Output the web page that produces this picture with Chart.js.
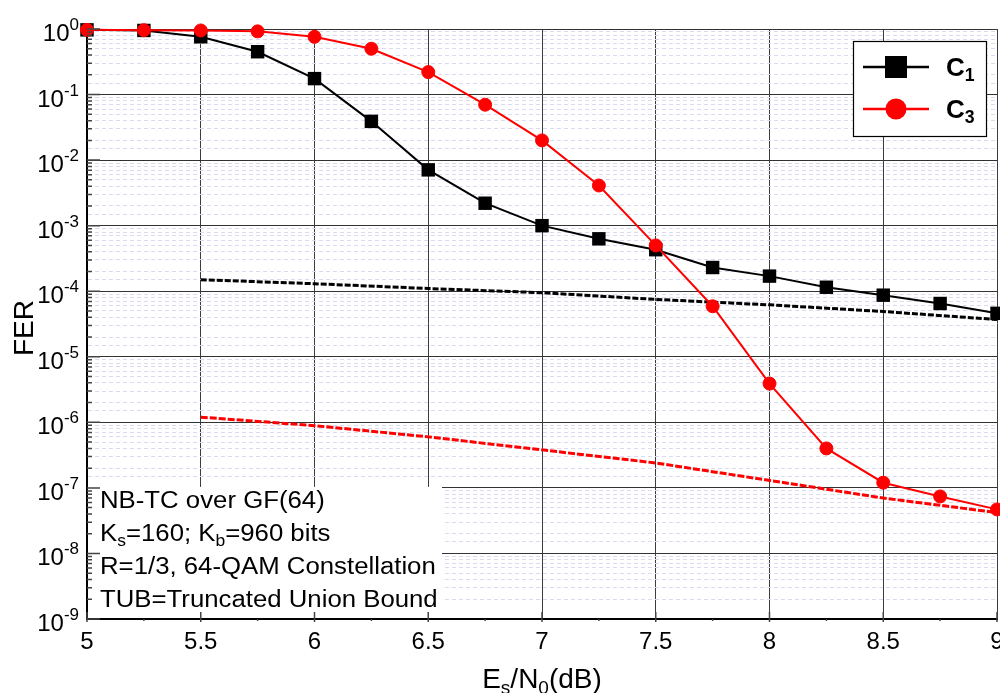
<!DOCTYPE html>
<html>
<head>
<meta charset="utf-8">
<script src="https://cdn.jsdelivr.net/npm/chart.js@4.4.1/dist/chart.umd.min.js"></script>
<style>
html, body { margin: 0; padding: 0; background: #fff; }
#wrap { width: 1000px; height: 693px; }
</style>
</head>
<body>
<div id="wrap"><canvas id="fer" width="1000" height="693"></canvas></div>
<script>
// values
const snr = [5, 5.25, 5.5, 5.75, 6, 6.25, 6.5, 6.75, 7, 7.25, 7.5, 7.75, 8, 8.25, 8.5, 8.75, 9];
const ferC1 = [0.97, 0.95, 0.76, 0.45, 0.175, 0.039, 0.0071, 0.0022, 1.0e-3, 6.3e-4, 4.3e-4, 2.3e-4, 1.7e-4, 1.15e-4, 8.7e-5, 6.5e-5, 4.6e-5];
const ferC3 = [0.97, 0.96, 0.95, 0.92, 0.76, 0.50, 0.22, 0.07, 0.020, 0.0041, 5.0e-4, 5.9e-5, 3.9e-6, 4.0e-7, 1.2e-7, 7.4e-8, 4.7e-8];
const tubSnr = [5.5, 6, 6.5, 7, 7.5, 8, 8.5, 9];
const tubC1 = [1.5e-4, 1.3e-4, 1.1e-4, 9.5e-5, 7.5e-5, 6.2e-5, 4.9e-5, 3.7e-5];
const tubC3 = [1.2e-6, 8.9e-7, 6.0e-7, 3.8e-7, 2.4e-7, 1.3e-7, 7.0e-8, 4.2e-8];
const xTicks = [5, 5.5, 6, 6.5, 7, 7.5, 8, 8.5, 9];
const xTickLabels = ['5', '5.5', '6', '6.5', '7', '7.5', '8', '8.5', '9'];
const yExponents = [0, -1, -2, -3, -4, -5, -6, -7, -8, -9];
const legendItems = [
    { name: [['C'], ['1', 'sub']], color: '#000000', style: 'rect' },
    { name: [['C'], ['3', 'sub']], color: '#ff0000', style: 'circle' }
];
const noteLines = [
    [['NB-TC over GF(64)']],
    [['K'], ['s', 'sub'], ['=160; K'], ['b', 'sub'], ['=960 bits']],
    [['R=1/3, 64-QAM Constellation']],
    [['TUB=Truncated Union Bound']]
];
const xTitle = [['E'], ['s', 'sub'], ['/N'], ['0', 'sub'], ['(dB)']];

const FONT = "'Liberation Sans', Arial, sans-serif";

function pts(xs, ys) {
    return xs.map((x, i) => ({ x: x, y: ys[i] }));
}

function isDecade(v) {
    if (!v) return false;
    const l = Math.log10(v);
    return Math.abs(l - Math.round(l)) < 1e-6;
}

// text with sub/superscript pieces
function richWidth(ctx, parts, size, weight) {
    let w = 0;
    for (const [t, kind] of parts) {
        const s = kind ? size * 0.68 : size;
        ctx.font = `${weight || ''} ${s}px ${FONT}`;
        w += ctx.measureText(t).width;
    }
    return w;
}

function drawRich(ctx, parts, x, y, size, weight) {
    let cx = x;
    for (const [t, kind] of parts) {
        const s = kind ? size * 0.68 : size;
        const dy = kind === 'sub' ? size * 0.2 : (kind === 'sup' ? -size * 0.45 : 0);
        ctx.font = `${weight || ''} ${s}px ${FONT}`;
        ctx.fillText(t, cx, y + dy);
        cx += ctx.measureText(t).width;
    }
}

const noteBox = {
    id: 'noteBox',
    beforeDatasetsDraw(chart) {
        const ctx = chart.ctx;
        const xs = chart.scales.x, ys = chart.scales.y;
        ctx.save();
        ctx.fillStyle = '#ffffff';
        ctx.fillRect(xs.left + 1, ys.getPixelForValue(1e-7) - 1, 354, ys.bottom - ys.getPixelForValue(1e-7));
        ctx.restore();
    }
};

const decor = {
    id: 'decor',
    afterDraw(chart) {
        const ctx = chart.ctx;
        const xs = chart.scales.x, ys = chart.scales.y;
        const area = chart.chartArea;
        ctx.save();
        ctx.fillStyle = '#000';
        ctx.strokeStyle = '#444';

        // y tick marks (inside)
        ctx.lineWidth = 1.5;
        ctx.beginPath();
        for (const e of yExponents) {
            const y = ys.getPixelForValue(Math.pow(10, e));
            ctx.moveTo(area.left, y); ctx.lineTo(area.left + 13, y);
            if (e > -9) {
                for (let m = 2; m <= 9; m++) {
                    const ym = ys.getPixelForValue(m * Math.pow(10, e - 1));
                    ctx.moveTo(area.left, ym); ctx.lineTo(area.left + 5, ym);
                }
            }
        }
        // x tick marks
        for (const v of xTicks) {
            const x = xs.getPixelForValue(v);
            ctx.moveTo(x, area.bottom - 7); ctx.lineTo(x, area.bottom + 3);
            if (v < 9) {
                const xm = xs.getPixelForValue(v + 0.25);
                ctx.moveTo(xm, area.bottom); ctx.lineTo(xm, area.bottom + 2);
            }
        }
        ctx.stroke();

        // y tick labels 10^n
        ctx.textAlign = 'left';
        ctx.textBaseline = 'alphabetic';
        for (const e of yExponents) {
            const y = ys.getPixelForValue(Math.pow(10, e));
            ctx.font = `24px ${FONT}`;
            const wBase = ctx.measureText('10').width;
            ctx.font = `17px ${FONT}`;
            const wExp = ctx.measureText(String(e)).width;
            const x0 = 79 - wBase - wExp;
            ctx.font = `24px ${FONT}`;
            ctx.fillText('10', x0, y + 12);
            ctx.font = `17px ${FONT}`;
            ctx.fillText(String(e), x0 + wBase, y + 1);
        }

        // x tick labels
        ctx.textAlign = 'center';
        ctx.font = `24px ${FONT}`;
        xTicks.forEach((v, i) => {
            ctx.fillText(xTickLabels[i], xs.getPixelForValue(v), 649);
        });

        // axis titles
        ctx.textAlign = 'left';
        const tw = richWidth(ctx, xTitle, 28);
        drawRich(ctx, xTitle, (area.left + area.right) / 2 - tw / 2, 688, 28);
        ctx.save();
        ctx.translate(33, 328);
        ctx.rotate(-Math.PI / 2);
        ctx.textAlign = 'center';
        ctx.font = `28px ${FONT}`;
        ctx.fillText('FER', 0, 0);
        ctx.restore();

        // note text
        ctx.textAlign = 'left';
        noteLines.forEach((line, i) => {
            ctx.save();
            ctx.translate(100, 508 + i * 33);
            ctx.scale(1.12, 1);
            drawRich(ctx, line, 0, 0, 23);
            ctx.restore();
        });

        // legend
        const lx = 853, ly = 41, lw = 133, lh = 95;
        ctx.fillStyle = '#fff';
        ctx.fillRect(lx, ly, lw, lh);
        ctx.strokeStyle = '#000';
        ctx.lineWidth = 1.2;
        ctx.strokeRect(lx + 0.5, ly + 0.5, lw, lh);
        legendItems.forEach((item, i) => {
            const y = 67 + i * 42;
            ctx.strokeStyle = item.color;
            ctx.fillStyle = item.color;
            ctx.lineWidth = 2.5;
            ctx.beginPath();
            ctx.moveTo(863, y); ctx.lineTo(929, y);
            ctx.stroke();
            if (item.style === 'rect') {
                ctx.fillRect(885, y - 11, 22, 22);
            } else {
                ctx.beginPath();
                ctx.arc(896, y, 10.5, 0, Math.PI * 2);
                ctx.fill();
            }
            ctx.fillStyle = '#000';
            drawRich(ctx, item.name, 946, y + 9, 26, 'bold');
        });
        ctx.restore();
    }
};

new Chart(document.getElementById('fer'), {
    type: 'line',
    data: {
        datasets: [
            {
                label: 'C3', data: pts(snr, ferC3), borderColor: '#ff0000', backgroundColor: '#ff0000',
                borderWidth: 2, pointStyle: 'circle', pointRadius: 6.5, pointBorderWidth: 1, order: 0
            },
            {
                label: 'C1', data: pts(snr, ferC1), borderColor: '#000000', backgroundColor: '#000000',
                borderWidth: 2, pointStyle: 'rect', pointRadius: 9.5, pointBorderWidth: 0, order: 1
            },
            {
                label: 'TUB C1', data: pts(tubSnr, tubC1), borderColor: '#000000',
                borderWidth: 3, borderDash: [6, 2], pointRadius: 0, order: 2
            },
            {
                label: 'TUB C3', data: pts(tubSnr, tubC3), borderColor: '#ff0000',
                borderWidth: 3, borderDash: [7, 2], pointRadius: 0, order: 2
            }
        ]
    },
    options: {
        responsive: false,
        animation: false,
        clip: false,
        layout: { autoPadding: false, padding: { left: 0, top: 29, right: 3, bottom: 0 } },
        elements: { line: { tension: 0 } },
        plugins: { legend: { display: false }, tooltip: { enabled: false } },
        scales: {
            x: {
                type: 'linear', min: 5, max: 9,
                ticks: { display: false, stepSize: 0.5 },
                grid: { color: '#3c3c3c', lineWidth: 1, drawTicks: false },
                border: { color: '#000', width: 2 },
                afterFit(s) { s.height = 74; }
            },
            y: {
                type: 'logarithmic', min: 1e-9, max: 1,
                ticks: { display: false },
                grid: {
                    drawTicks: false,
                    color: c => (c.tick && isDecade(c.tick.value)) ? '#333333' : '#dadaf0',
                    lineWidth: 1
                },
                border: {
                    color: '#000', width: 2,
                    dash: c => (c.tick && !isDecade(c.tick.value)) ? [4, 3] : []
                },
                afterFit(s) { s.width = 87; }
            }
        }
    },
    plugins: [noteBox, decor]
});
</script>
</body>
</html>
